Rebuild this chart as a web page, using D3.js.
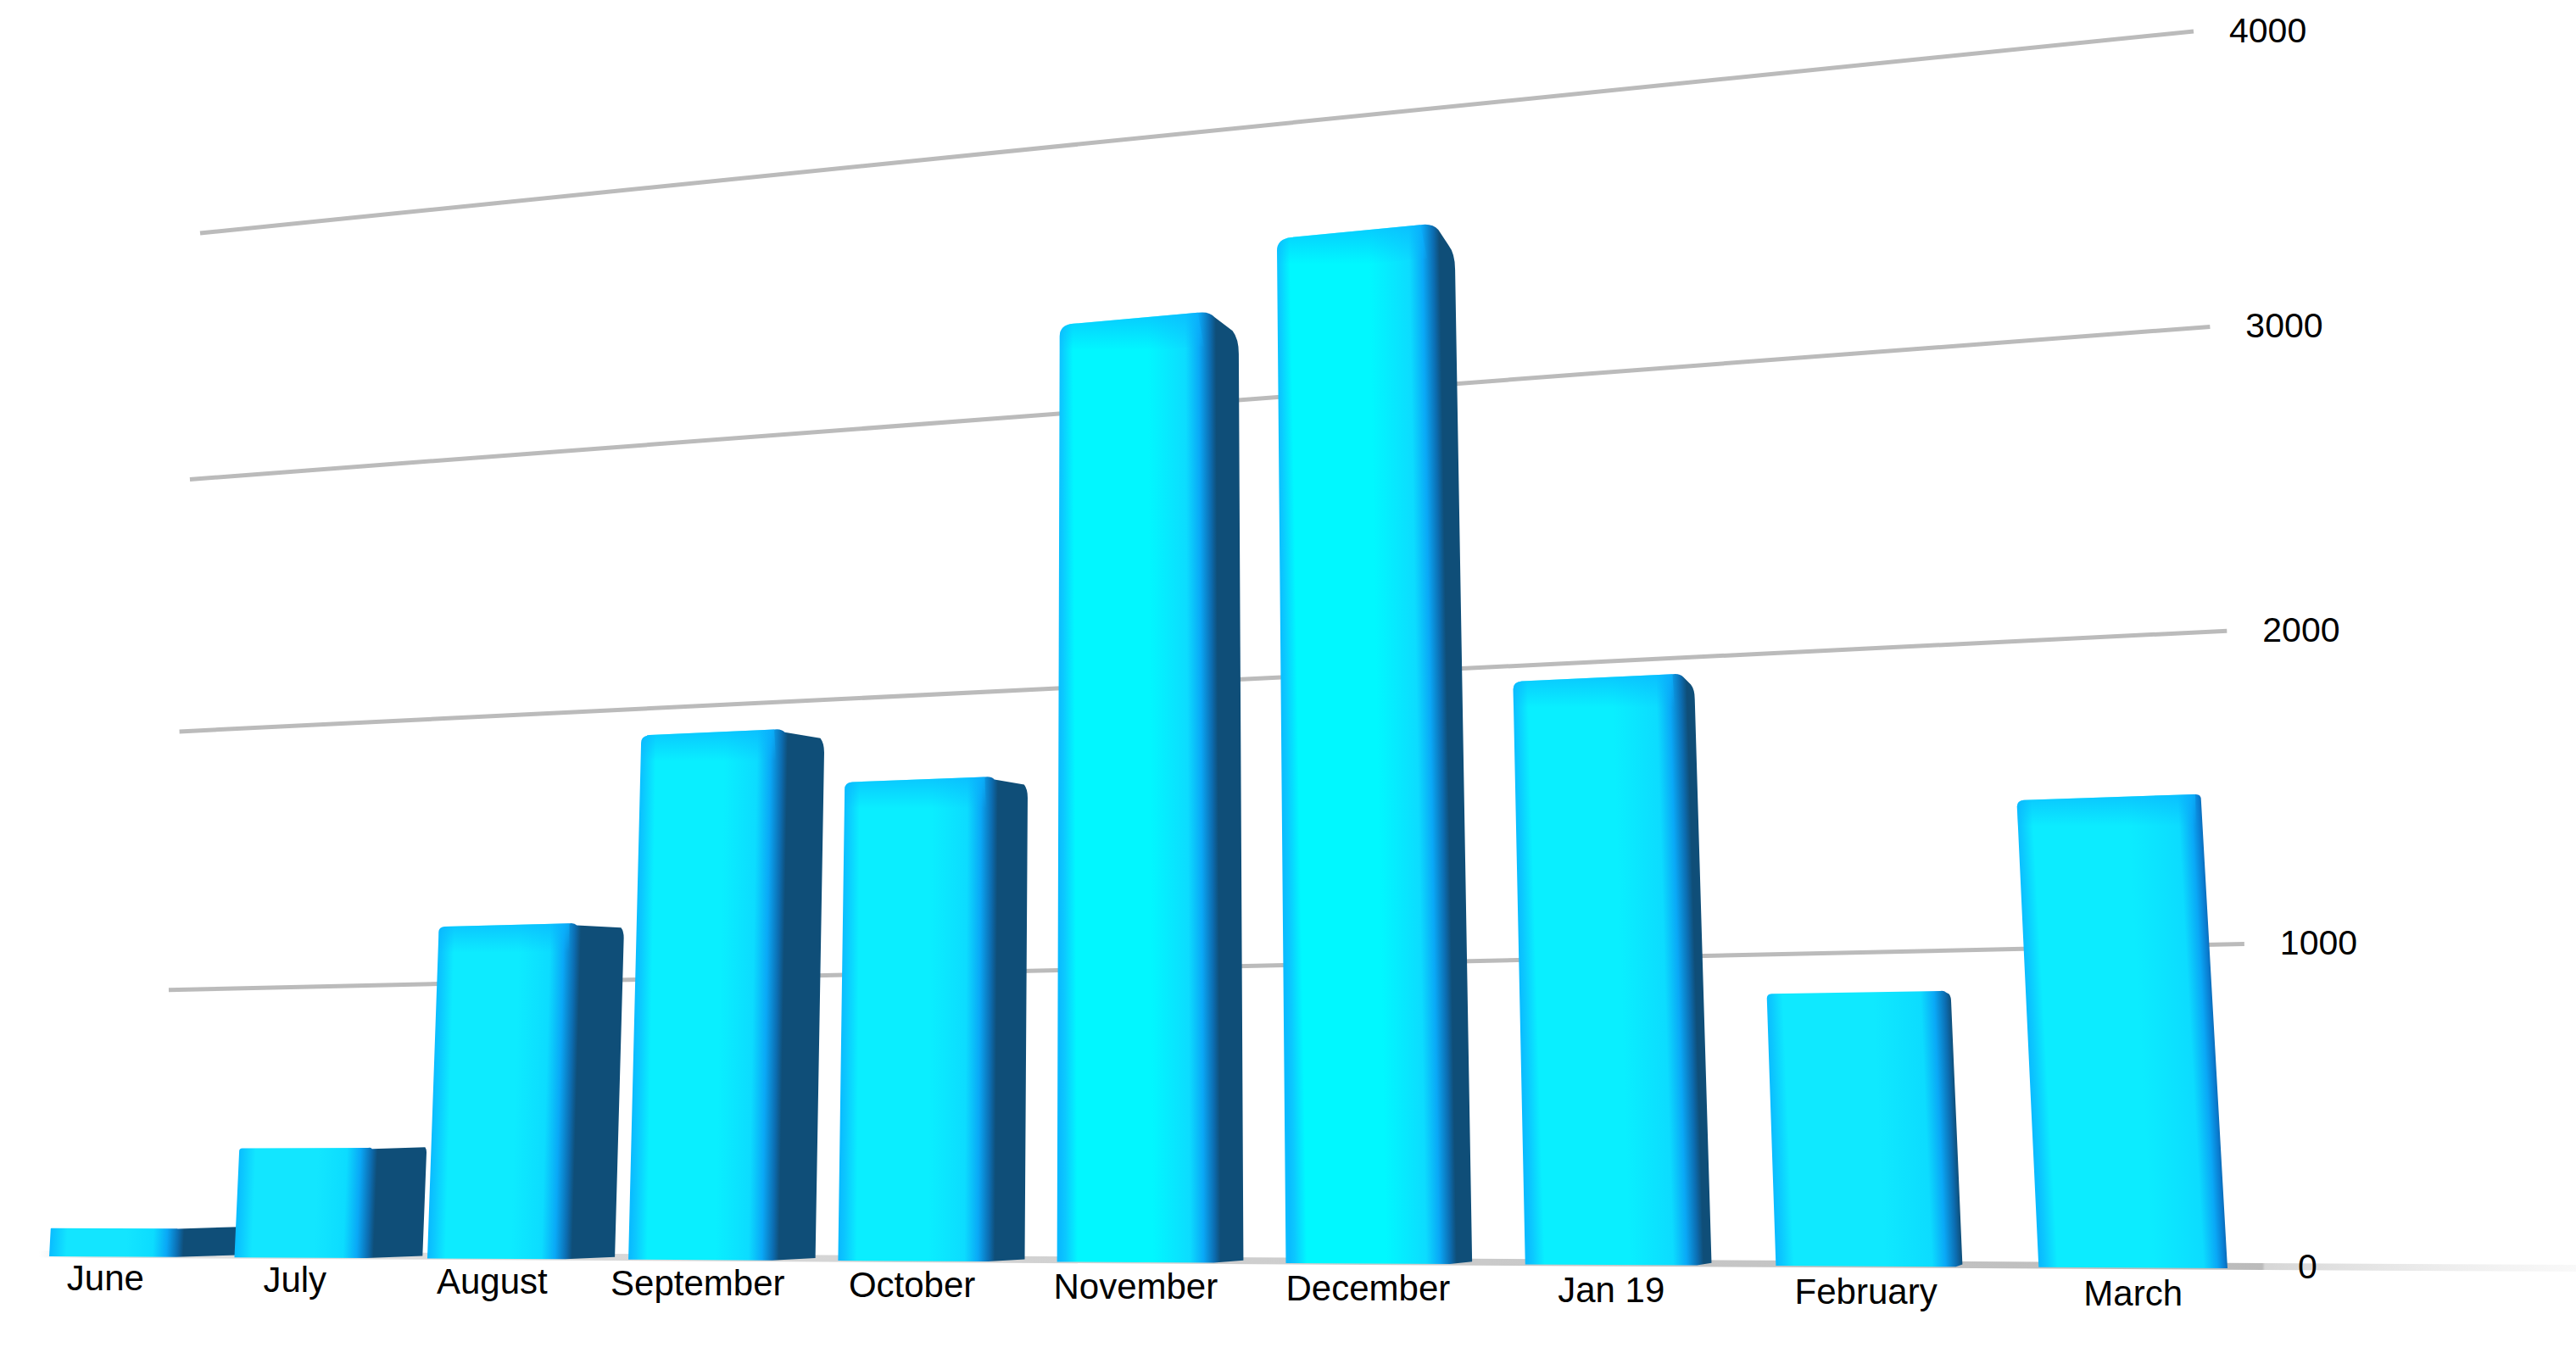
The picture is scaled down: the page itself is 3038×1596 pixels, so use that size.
<!DOCTYPE html>
<html><head><meta charset="utf-8">
<script src="https://cdn.jsdelivr.net/npm/d3@7/dist/d3.min.js"></script>
<style>html,body{margin:0;padding:0;background:#fff}svg{display:block}</style>
</head><body><svg id="c"></svg>
<script>
const categories = ["June","July","August","September","October","November","December","Jan 19","February","March"];
const values = [105,400,1206,1885,1680,3300,3545,1925,863,1462];
const yTicks = [0,1000,2000,3000,4000];

const W = 3038, H = 1596;
const svg = d3.select("#c").attr("width",W).attr("height",H).attr("viewBox",`0 0 ${W} ${H}`);
const defs = svg.append("defs");

// perspective maps of the unit square (u along the categories, v up the value axis)
function homography(p0,p1,p2,p3){ // (0,0),(1,0),(1,1),(0,1)
  const dx1=p1[0]-p2[0],dx2=p3[0]-p2[0],sx=p0[0]-p1[0]+p2[0]-p3[0];
  const dy1=p1[1]-p2[1],dy2=p3[1]-p2[1],sy=p0[1]-p1[1]+p2[1]-p3[1];
  const den=dx1*dy2-dx2*dy1;
  const g=(sx*dy2-dx2*sy)/den,h=(dx1*sy-sx*dy1)/den;
  const a=p1[0]-p0[0]+g*p1[0],b=p3[0]-p0[0]+h*p3[0],c=p0[0];
  const d=p1[1]-p0[1]+g*p1[1],e=p3[1]-p0[1]+h*p3[1],f=p0[1];
  return (u,v)=>{const w=g*u+h*v+1;return [(a*u+b*v+c)/w,(d*u+e*v+f)/w];};
}
const wall = homography([186,1480],[2668,1494],[2587,37],[236,275]);
const plane = homography([58,1482],[2627,1496],[2545,26],[122,281]);
const VP = [2557,1405];      // vanishing point of the depth direction
const DEPTH = 0.031;         // share of the way towards it

const x = d3.scaleBand().domain(categories).range([0,1]).paddingInner(0.31).paddingOuter(0).align(0);
const y = d3.scaleLinear().domain([0,4000]).range([0,1]);
const radius = d3.scaleLinear().domain([0,400,3500]).range([0,3,14]);
const glow = d3.scaleLinear().domain([0,3500]).range(["#14e4ff","#00f8ff"]);
const back = p => [p[0]+(VP[0]-p[0])*DEPTH, p[1]+(VP[1]-p[1])*DEPTH];

const FONT = "'Liberation Sans', Arial, Helvetica, sans-serif";
const GRID = "#bbbbbb", SIDE = "#0f4e78";

// floor line, fading out at both ends
const floorL = wall(-0.07,0), floorR = wall(1.16,0), floorEnd = wall(1,0);
const endAt = (floorEnd[0]-floorL[0])/(floorR[0]-floorL[0]);
const fg = defs.append("linearGradient").attr("id","floor").attr("gradientUnits","userSpaceOnUse")
  .attr("x1",floorL[0]).attr("y1",floorL[1]).attr("x2",floorR[0]).attr("y2",floorR[1]);
[[0,"#bbb",0],[0.02,"#ccc",.6],[endAt,"#bbb",1],[endAt+0.001,"#d6d6d6",1],[1,"#eee",0]].forEach(s=>
  fg.append("stop").attr("offset",s[0]).attr("stop-color",s[1]).attr("stop-opacity",s[2]));
svg.append("path").attr("d",d3.line()([floorL,floorR])).attr("stroke","url(#floor)").attr("stroke-width",8).attr("fill","none");

// gridlines
svg.append("g").selectAll("path").data(yTicks.filter(d=>d>0)).join("path")
  .attr("d",d=>d3.line()([wall(0,y(d)),wall(1,y(d))]))
  .attr("stroke",GRID).attr("stroke-width",5).attr("fill","none");

// tick labels
svg.append("g").selectAll("text").data(yTicks).join("text")
  .attr("x",d=>wall(1,y(d))[0]+42).attr("y",d=>wall(1,y(d))[1]+14-(d===0?0:1))
  .attr("font-family",FONT).attr("font-size",41).attr("fill","#000").text(d=>d);

// bars
const bars = svg.append("g");
categories.forEach((cat,i)=>{
  const v = values[i], u0=x(cat), u1=u0+x.bandwidth(), vt=y(v);
  const bl=plane(u0,0), br=plane(u1,0), tl=plane(u0,vt), tr=plane(u1,vt);
  const bbr=back(br), btr=back(tr);
  const hasSide = btr[0]>tr[0]+0.5;
  const r = radius(v);
  const p = d3.path();
  p.moveTo(bl[0],bl[1]);
  p.lineTo(tl[0],tl[1]+r);
  p.quadraticCurveTo(tl[0],tl[1],tl[0]+r*1.2,tl[1]-r*0.12);
  if(hasSide){
    p.lineTo(tr[0]-r,tr[1]+r*0.05);
    p.quadraticCurveTo(tr[0],tr[1]-r*0.1,tr[0]+r*.5,tr[1]+r*.45);
    p.lineTo(btr[0]-r*.55,btr[1]-r*.75);
    p.quadraticCurveTo(btr[0],btr[1]-r*.05,btr[0],btr[1]+r*1.3);
    p.lineTo(bbr[0],bbr[1]);
    p.lineTo(br[0],br[1]);
  } else {
    p.lineTo(tr[0]-r,tr[1]+r*0.05);
    p.quadraticCurveTo(tr[0],tr[1],tr[0],tr[1]+r);
    p.lineTo(br[0],br[1]);
  }
  p.closePath();

  // gradient runs across the bar, square to its right front edge
  const ex=br[0]-tr[0], ey=br[1]-tr[1], len=Math.hypot(ex,ey);
  const nx=ey/len, ny=-ex/len;
  const mid=[(tl[0]+bl[0])/2,(tl[1]+bl[1])/2];
  const rightFront=[(tr[0]+br[0])/2,(tr[1]+br[1])/2];
  const rightEnd = hasSide ? [(btr[0]+bbr[0])/2,(btr[1]+bbr[1])/2] : rightFront;
  const span = (rightEnd[0]-mid[0])*nx+(rightEnd[1]-mid[1])*ny;
  const front = (rightFront[0]-mid[0])*nx+(rightFront[1]-mid[1])*ny;
  const f = front/span, px = 1/span;
  const id="g"+i;
  const g = defs.append("linearGradient").attr("id",id).attr("gradientUnits","userSpaceOnUse")
    .attr("x1",mid[0]).attr("y1",mid[1]).attr("x2",mid[0]+nx*span).attr("y2",mid[1]+ny*span);
  const c = glow(v);
  const stops = [[0,"#0abcff"],[6*px,"#0cc8ff"],[20*px,c],[f*0.6,c],[f-28*px,"#0cdcff"],[f-12*px,"#0aa8f6"]];
  if(hasSide) stops.push([f+1*px,"#0c6cb0"],[f+8*px,SIDE],[1,SIDE]);
  else stops.push([f-3*px,"#0a7cd0"],[1,"#0a6cb8"]);
  stops.forEach(s=>g.append("stop").attr("offset",Math.max(0,Math.min(1,s[0]))).attr("stop-color",s[1]));
  bars.append("path").attr("d",p.toString()).attr("fill",`url(#${id})`);

  // soft blue lip along the top of the front face
  if(v>1000){
    const tid="t"+i;
    const tg=defs.append("linearGradient").attr("id",tid).attr("gradientUnits","userSpaceOnUse")
      .attr("x1",0).attr("x2",0).attr("y1",Math.min(tl[1],tr[1])).attr("y2",Math.max(tl[1],tr[1])+30);
    tg.append("stop").attr("offset",0).attr("stop-color","#0ab4ff").attr("stop-opacity",.7);
    tg.append("stop").attr("offset",1).attr("stop-color","#0ab4ff").attr("stop-opacity",0);
    const lip=d3.path();
    lip.moveTo(tl[0],tl[1]+40);lip.lineTo(tl[0],tl[1]+r);
    lip.quadraticCurveTo(tl[0],tl[1],tl[0]+r*1.2,tl[1]-r*0.12);
    lip.lineTo(tr[0]-r,tr[1]+r*.05);lip.lineTo(tr[0]-6,tr[1]+40);lip.closePath();
    bars.append("path").attr("d",lip.toString()).attr("fill",`url(#${tid})`);
  }
});

// category labels
svg.append("g").selectAll("text").data(categories).join("text")
  .attr("text-anchor","middle")
  .attr("x",d=>plane(x(d)+x.bandwidth()/2,0)[0]-8+9*Math.min(1,x(d)*2))
  .attr("y",d=>plane(x(d)+x.bandwidth()/2,0)[1]+40+5*x(d))
  .attr("font-family",FONT).attr("font-size",42).attr("fill","#000").text(d=>d);
</script></body></html>
